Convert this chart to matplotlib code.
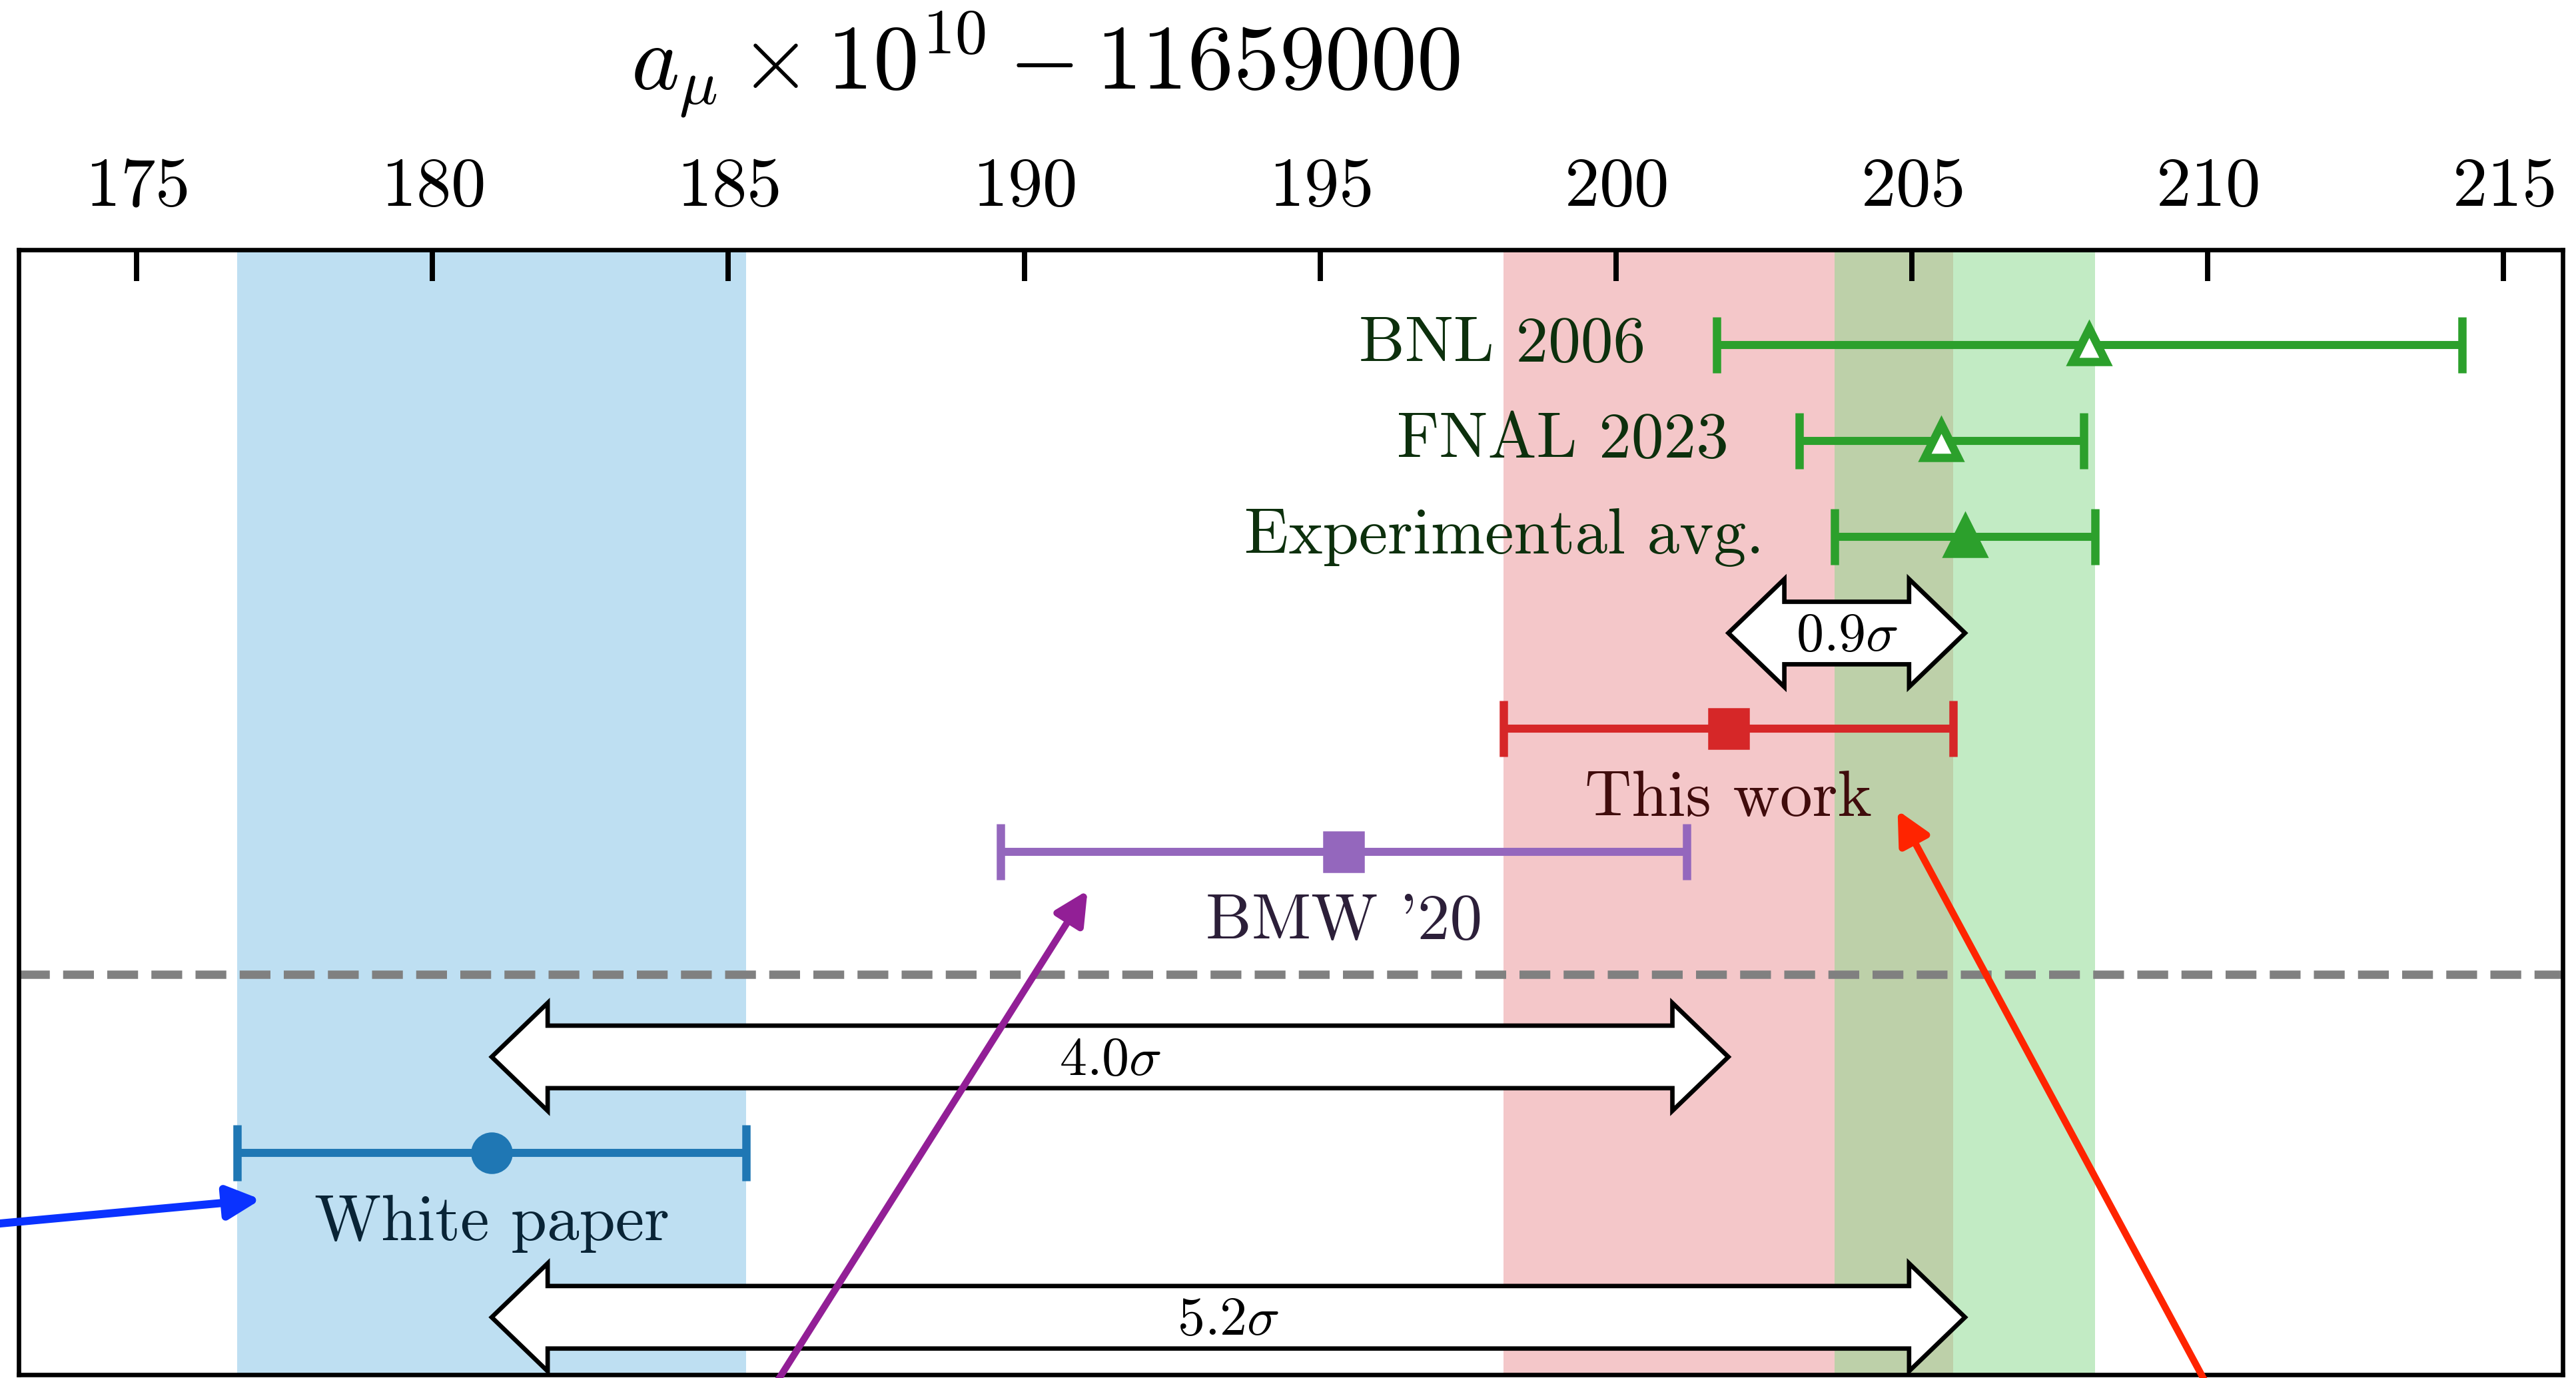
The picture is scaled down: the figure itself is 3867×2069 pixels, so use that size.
import matplotlib
matplotlib.use("Agg")
import matplotlib.pyplot as plt
from matplotlib.patches import Polygon
import numpy as np

plt.rcParams["mathtext.fontset"] = "cm"
plt.rcParams["font.family"] = "cmr10"
plt.rcParams["axes.formatter.use_mathtext"] = True

# a_mu x 10^10 - 11659000
exp_labels = ["BNL 2006", "FNAL 2023", "Experimental avg."]
exp_vals = [208.0, 205.5, 205.9]
exp_errs = [6.3, 2.4, 2.2]
exp_filled = [False, False, True]

th_labels = ["This work", "BMW '20", "White paper"]
th_vals = [201.9, 195.4, 181.0]
th_errs = [3.8, 5.8, 4.3]

# tensions between pairs of central values
sigma_labels = ["0.9", "4.0", "5.2"]
sigma_pairs = [("this", "avg"), ("wp", "this"), ("wp", "avg")]

xticks = [175, 180, 185, 190, 195, 200, 205, 210, 215]

GREEN = np.array([44, 160, 44]) / 255
RED = np.array([214, 39, 40]) / 255
PURPLE = np.array([148, 103, 189]) / 255
BLUE = np.array([31, 119, 180]) / 255

# vertical layout (rows counted from the top)
exp_rows = [1.0, 2.0, 3.0]
th_rows = [5.0, 6.28, 9.42]
sigma_rows = [4.0, 8.42, 11.135]
sep_row = 7.56
y_bottom = 11.73

W, H, DPI = 3867, 2069, 300
fig = plt.figure(figsize=(W / DPI, H / DPI), dpi=DPI)
ax = fig.add_axes([27.5 / W, 1 - 2063.5 / H, (3847 - 27.5) / W, (2063.5 - 374.5) / H])
ax.set_xlim(173, 216)
ax.set_ylim(y_bottom, 0)

for s in ax.spines.values():
    s.set_linewidth(1.6)

ax.set_xticks(xticks)
ax.tick_params(axis="x", direction="in", length=11.3, width=1.9, top=True, bottom=False,
               labeltop=True, labelbottom=False, labelsize=25.2, pad=11)
ax.tick_params(axis="y", left=False, right=False, labelleft=False)

# bands
wp_v, wp_e = th_vals[2], th_errs[2]
tw_v, tw_e = th_vals[0], th_errs[0]
av_v, av_e = exp_vals[2], exp_errs[2]
ax.axvspan(wp_v - wp_e, wp_v + wp_e, color="#bedff2", lw=0, zorder=0)
ax.axvspan(tw_v - tw_e, tw_v + tw_e, color="#f4c7c9", lw=0, zorder=0.1)
ax.axvspan(av_v - av_e, av_v + av_e, color="#87d98b", alpha=0.5, lw=0, zorder=0.2)

ax.axhline(sep_row, color="gray", ls="--", lw=3, zorder=1)

eb_kw = dict(capsize=10, elinewidth=2.9, capthick=2.9, ms=12, mew=3, zorder=3)
label_size = 23.4

# experiments
for lab, v, e, y, filled in zip(exp_labels, exp_vals, exp_errs, exp_rows, exp_filled):
    ax.errorbar(v, y, xerr=e, fmt="^", color=GREEN, mec=GREEN,
                mfc=GREEN if filled else "white", **eb_kw)
    ax.text(v - e - 1.2, y + 0.17, lab, ha="right", va="baseline",
            fontsize=label_size, color=GREEN * 0.3, zorder=4)

# theory
th_colors = [RED, PURPLE, BLUE]
th_markers = ["s", "s", "o"]
for lab, v, e, y, c, m in zip(th_labels, th_vals, th_errs, th_rows, th_colors, th_markers):
    ax.errorbar(v, y, xerr=e, fmt=m, color=c, mec=c, mfc=c, **eb_kw)
    ax.text(v, y + 0.91, lab, ha="center", va="baseline",
            fontsize=label_size, color=c * 0.3, zorder=4)


def double_arrow(ax, x0, x1, y, body=0.326, head=0.5625, head_len=0.946):
    pts = [(x0, y), (x0 + head_len, y - head), (x0 + head_len, y - body),
           (x1 - head_len, y - body), (x1 - head_len, y - head), (x1, y),
           (x1 - head_len, y + head), (x1 - head_len, y + body),
           (x0 + head_len, y + body), (x0 + head_len, y + head)]
    ax.add_patch(Polygon(pts, closed=True, fc="white", ec="black", lw=1.6,
                         joinstyle="miter", zorder=5))


centers = {"this": tw_v, "wp": wp_v, "avg": av_v}
for lab, (a, b), y in zip(sigma_labels, sigma_pairs, sigma_rows):
    x0, x1 = sorted([centers[a], centers[b]])
    double_arrow(ax, x0, x1, y)
    ax.text((x0 + x1) / 2, y + 0.185, r"$%s\sigma$" % lab, ha="center", va="baseline",
            fontsize=19.7, zorder=6)

# pointers coming in from outside the panel
pointers = [
    ((177.1, 9.906), (170.0, 10.31), "#0a32ff", 2.9),
    ((191.07, 6.684), (184.6, 13.0), "#921f96", 2.5),
    ((204.76, 5.849), (211.0, 13.0), "#ff2400", 2.5),
]
for tip, tail, c, lw in pointers:
    ax.annotate("", xy=tip, xytext=tail, xycoords="data", textcoords="data",
                annotation_clip=False, zorder=7,
                arrowprops=dict(arrowstyle="-|>", color=c, lw=lw, mutation_scale=25,
                                shrinkA=0, shrinkB=0))

fig.text(1569.5 / W, 1 - 133.6 / H, r"$a_\mu \times 10^{10} - 11659000$",
         ha="center", va="baseline", fontsize=33.0)

fig.savefig("out.png", dpi=DPI)
